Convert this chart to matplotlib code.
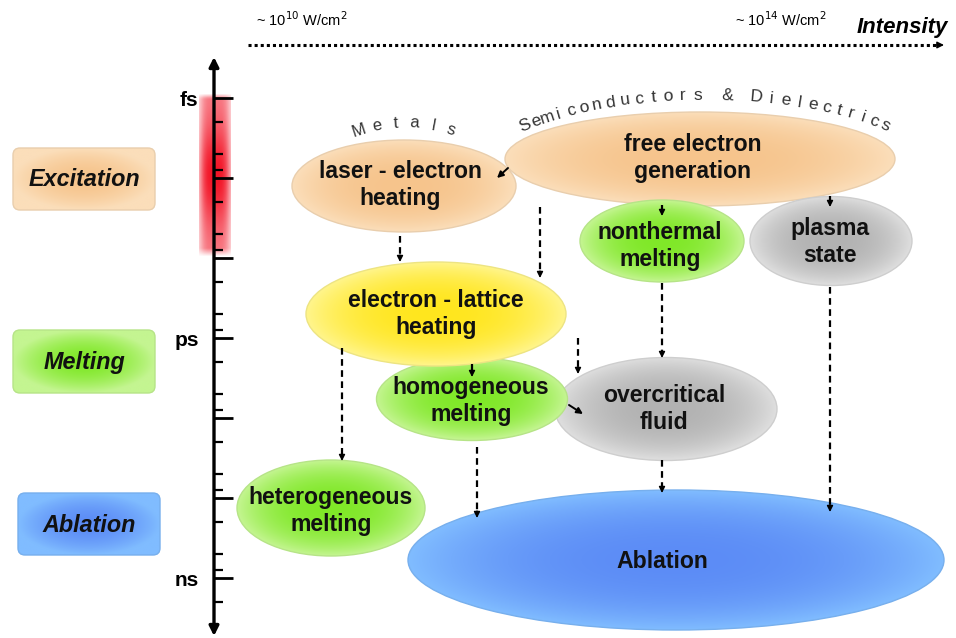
import numpy as np
import matplotlib
matplotlib.use("Agg")
import matplotlib.pyplot as plt
from matplotlib.patches import Ellipse, FancyBboxPatch
from matplotlib.ticker import FixedLocator, FixedFormatter

plt.rcParams["font.family"] = ["Liberation Sans", "DejaVu Sans"]

# ---- content -------------------------------------------------------------
stage_labels = ["Excitation", "Melting", "Ablation"]
time_decades = [1e-15, 1e-14, 1e-13, 1e-12, 1e-11, 1e-10, 1e-9]
time_labels = ["fs", "", "", "ps", "", "", "ns"]
minor_mult = [2, 5, 8]
intensity_low = r"~ 10$^{10}$ W/cm$^{2}$"
intensity_high = r"~ 10$^{14}$ W/cm$^{2}$"
intensity_title = "Intensity"
metals_label = "Metals"
semi_label = "Semiconductors & Dielectrics"
process_labels = [
    "Ablation",
    "heterogeneous\nmelting",
    "overcritical\nfluid",
    "homogeneous\nmelting",
    "electron - lattice\nheating",
    "laser - electron\nheating",
    "free electron\ngeneration",
    "nonthermal\nmelting",
    "plasma\nstate",
]

# ---- layout (pixel coords of the 956x638 canvas) -------------------------
W, H = 956, 638
# (cx, cy, width, height, colour key)
ellipses = [
    (676, 560, 536, 140, "blue"),
    (331, 508, 188, 96, "green"),
    (666, 409, 222, 103, "gray"),
    (472, 399, 191, 83, "green"),
    (436, 314, 260, 104, "yellow"),
    (404, 186, 224, 92, "peach"),
    (700, 159, 390, 94, "peach"),
    (662, 241, 164, 82, "green"),
    (831, 241, 162, 89, "gray"),
]
text_pos = [(662, 561), (331, 511), (664, 409), (471, 401), (436, 314),
            (400, 185), (693, 158), (660, 246), (830, 242)]
boxes = [(13, 148, 142, 62, "peach"), (13, 330, 142, 63, "green"),
         (18, 493, 142, 62, "blue")]
palette = {
    "peach": ((246, 196, 140), (251, 222, 186)),
    "green": ((128, 232, 40), (196, 245, 145)),
    "yellow": ((255, 230, 30), (255, 245, 140)),
    "gray": ((178, 178, 178), (222, 222, 222)),
    "blue": ((92, 140, 246), (128, 188, 255)),
}
dashed_arrows = [
    ((400, 236), (400, 262)),
    ((540, 207), (540, 278)),
    ((662, 205), (662, 216)),
    ((830, 196), (830, 207)),
    ((342, 348), (342, 461)),
    ((472, 364), (472, 377)),
    ((578, 338), (578, 374)),
    ((662, 283), (662, 358)),
    ((477, 447), (477, 518)),
    ((662, 460), (662, 493)),
    ((830, 287), (830, 512)),
]
solid_arrows = [((508, 168), (497, 178)), ((569, 405), (583, 414))]


def rgb(c):
    return np.array(c, dtype=float) / 255.0


def shaded(ax, patch, inner, outer, extent, z, power=1.6):
    """Patch filled with a radial gradient (image clipped to the patch)."""
    ax.add_patch(patch)
    yy, xx = np.mgrid[-1:1:160j, -1:1:160j]
    r = np.clip(np.hypot(xx, yy), 0, 1) ** power
    img = rgb(inner) * (1 - r[..., None]) + rgb(outer) * r[..., None]
    im = ax.imshow(img, extent=extent, zorder=z, aspect="auto",
                   interpolation="bilinear")
    im.set_clip_path(patch)


def arc_text(ax, s, cx, cy, a, b, t0, t1, **kw):
    """Place characters of s along the top of an ellipse arc."""
    th = np.radians(np.linspace(t0, t1, len(s)))
    for ch, t in zip(s, th):
        if ch == " ":
            continue
        x = cx + a * np.sin(t)
        y = cy - b * np.cos(t)
        rot = np.degrees(np.arctan2(-b * np.sin(t), a * np.cos(t)))
        ax.text(x, y, ch, rotation=rot, ha="center", va="center",
                rotation_mode="anchor", **kw)


fig = plt.figure(figsize=(W / 100, H / 100), dpi=100)
ax = fig.add_axes([0, 0, 1, 1])
ax.axis("off")

# left stage boxes
for (x, y, w, h, key), lab in zip(boxes, stage_labels):
    inner, outer = palette[key]
    p = FancyBboxPatch((x + 4, y + 4), w - 8, h - 8,
                       boxstyle="round,pad=4,rounding_size=7",
                       facecolor="none", edgecolor=rgb(outer) * 0.93,
                       lw=1, zorder=3)
    shaded(ax, p, inner, outer, (x, x + w, y + h, y), 2, power=1.8)
    ax.text(x + w / 2, y + h / 2 + 1, lab, ha="center", va="center",
            fontsize=16.8, weight="bold", style="italic", color="#111111",
            zorder=4)

# red excitation band behind the time axis
yy, xx = np.mgrid[0:1:120j, 0:1:40j]
alpha = np.exp(-((xx - 0.5) / 0.5) ** 4)
alpha *= 0.55 + 0.45 * np.exp(-((yy - 0.5) / 0.3) ** 2)
alpha *= np.clip(yy / 0.03, 0, 1) * np.clip((1 - yy) / 0.05, 0, 1)
band = np.zeros((120, 40, 4))
band[..., 0] = 0.95
band[..., 1] = 0.08
band[..., 2] = 0.15
band[..., 3] = alpha
ax.imshow(band, extent=(199, 231, 257, 93), aspect="auto", zorder=1,
          interpolation="bilinear")

# time axis line with arrowheads
ax.annotate("", xy=(214, 57), xytext=(214, 636),
            arrowprops=dict(arrowstyle="<|-|>", lw=2.4, color="black",
                            mutation_scale=14, shrinkA=0, shrinkB=0),
            zorder=5)

# intensity axis
ax.plot([248, 936], [45, 45], color="black", lw=2.2, ls=(0, (1, 1)),
        zorder=5)
ax.annotate("", xy=(944, 45), xytext=(934, 45),
            arrowprops=dict(arrowstyle="-|>", lw=1, color="black",
                            mutation_scale=10, shrinkA=0, shrinkB=0))
ax.text(256, 20, intensity_low, fontsize=10.5, ha="left", va="center")
ax.text(735, 20, intensity_high, fontsize=10.5, ha="left", va="center")
ax.text(948, 28, intensity_title, fontsize=16, weight="bold",
        style="italic", ha="right", va="center")

# process ellipses
for i, ((cx, cy, w, h, key), lab, (tx, ty)) in enumerate(
        zip(ellipses, process_labels, text_pos)):
    inner, outer = palette[key]
    z = 10 + 3 * i
    e = Ellipse((cx, cy), w, h, facecolor="none",
                edgecolor=rgb(outer) * 0.93, lw=1, zorder=z + 1)
    shaded(ax, e, inner, outer,
           (cx - w / 2, cx + w / 2, cy + h / 2, cy - h / 2), z, power=2.4)
    ax.text(tx, ty, lab, ha="center", va="center", fontsize=16.6,
            weight="bold", color="#111111", linespacing=1.25, zorder=z + 2)

# arrows
for (x0, y0), (x1, y1) in dashed_arrows:
    ax.plot([x0, x1], [y0, y1 - 5], color="black", lw=1.6,
            ls=(0, (3, 2)), zorder=60)
    ax.annotate("", xy=(x1, y1), xytext=(x1, y1 - 7),
                arrowprops=dict(arrowstyle="-|>", lw=1, color="black",
                                mutation_scale=9, shrinkA=0, shrinkB=0),
                zorder=61)
for (x0, y0), (x1, y1) in solid_arrows:
    ax.annotate("", xy=(x1, y1), xytext=(x0, y0),
                arrowprops=dict(arrowstyle="-|>", lw=1.4, color="black",
                                mutation_scale=9, shrinkA=0, shrinkB=0),
                zorder=61)

# curved headings
arc_text(ax, metals_label, 405, 273, 150, 150, -18, 18, fontsize=12,
         color="#333333", zorder=70)
arc_text(ax, semi_label, 705, 195, 250, 100, -46, 46, fontsize=12.5,
         color="#333333", zorder=70)

ax.set_xlim(0, W)
ax.set_ylim(H, 0)

# time scale (log axis)
tax = fig.add_axes([214 / W, (H - 630) / H, 40 / W, (630 - 62) / H])
tax.patch.set_alpha(0)
for s in tax.spines.values():
    s.set_visible(False)
tax.set_yscale("log")
tax.set_ylim(10 ** -8.35, 10 ** -15.45)
minor = [m * d for d in time_decades[:-1] for m in minor_mult]
minor.append(2 * time_decades[-1])
tax.yaxis.set_major_locator(FixedLocator(time_decades))
tax.yaxis.set_major_formatter(FixedFormatter(time_labels))
tax.yaxis.set_minor_locator(FixedLocator(minor))
tax.yaxis.set_minor_formatter(FixedFormatter([""] * len(minor)))
tax.tick_params(axis="y", which="major", direction="in", length=14,
                width=2, pad=11, labelsize=15)
tax.tick_params(axis="y", which="minor", direction="in", length=6.5,
                width=1.6)
for lbl in tax.get_yticklabels():
    lbl.set_fontweight("bold")
tax.tick_params(axis="x", bottom=False, labelbottom=False)

fig.savefig("out.png", dpi=100)
